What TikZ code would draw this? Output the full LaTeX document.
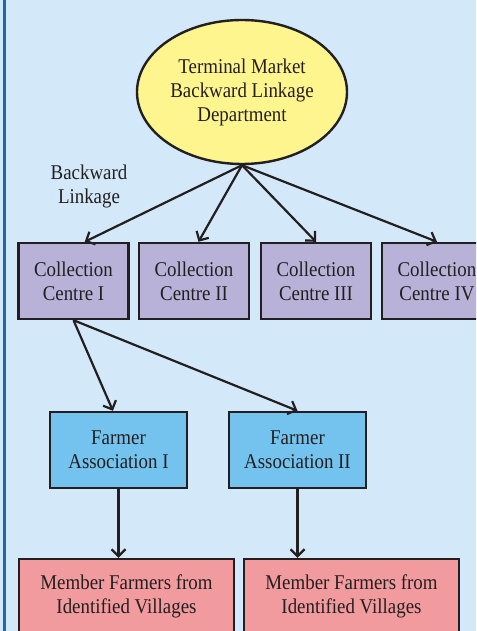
\documentclass[tikz,border=0pt]{standalone}
\usepackage{fontspec}
\setmainfont{Liberation Serif}[FakeStretch=0.9]
\usetikzlibrary{arrows.meta,calc,shapes.geometric}
\definecolor{BackClr}{HTML}{D3E8F9}
\definecolor{EdgeClr}{HTML}{1B6AAE}
\definecolor{LineClr}{HTML}{231F20}
\definecolor{TermClr}{HTML}{FFF58E}
\definecolor{CentreClr}{HTML}{B8B2D8}
\definecolor{AssocClr}{HTML}{73C3EE}
\definecolor{MemberClr}{HTML}{F19B9E}
\tikzset{
  boxnode/.style={draw=LineClr,line width=2.4pt,inner sep=0pt,align=center,text=LineClr,
    font=\fontsize{21}{24}\selectfont},
  centrebox/.style={boxnode,fill=CentreClr,minimum width=110pt,minimum height=76pt},
  assocbox/.style={boxnode,fill=AssocClr,minimum width=137pt,minimum height=76pt},
  memberbox/.style={boxnode,fill=MemberClr,minimum width=215pt,minimum height=74pt},
  linkarrow/.style={draw=LineClr,line width=2.2pt,-{Straight Barb[length=7pt,width=14pt]}}
}

\begin{document}
\begin{tikzpicture}[x=1pt,y=-1pt]
\path[use as bounding box,fill=BackClr] (0,0) rectangle (476,631);
\clip (0,0) rectangle (476,631);
\draw[EdgeClr,line width=3pt] (4.5,0) -- (4.5,631);

\node[boxnode,ellipse,fill=TermClr,minimum width=210pt,minimum height=144pt] (term) at (242,92)
  {Terminal Market\\Backward Linkage\\Department};
\node[text=LineClr,align=center,font=\fontsize{21}{24}\selectfont] (backlbl) at (89,186) {Backward\\Linkage};

\node[centrebox] (cc1) at (73.5,281) {Collection\\Centre I};
\node[centrebox] (cc2) at (194,281) {Collection\\Centre II};
\node[centrebox] (cc3) at (316,281) {Collection\\Centre III};
\node[centrebox] (cc4) at (437,281) {Collection\\Centre IV};

\node[assocbox] (fa1) at (118.5,450) {Farmer\\Association I};
\node[assocbox] (fa2) at (297.5,450) {Farmer\\Association II};

\node[memberbox] (mf1) at (126.5,596) {Member Farmers from\\Identified Villages};
\node[memberbox] (mf2) at (351.5,596) {Member Farmers from\\Identified Villages};

\draw[linkarrow] (term.south) -- ($(cc1.north west)!0.6!(cc1.north east)$);
\draw[linkarrow] (term.south) -- ($(cc2.north west)!0.54!(cc2.north east)$);
\draw[linkarrow] (term.south) -- (cc3.north);
\draw[linkarrow] (term.south) -- (cc4.north);

\draw[linkarrow] (cc1.south) -- ($(fa1.north west)!0.46!(fa1.north east)$);
\draw[linkarrow] (cc1.south) -- (fa2.north);

\draw[linkarrow] (fa1.south) -- (fa1.south |- mf1.north);
\draw[linkarrow] (fa2.south) -- (fa2.south |- mf2.north);
\end{tikzpicture}
\end{document}
